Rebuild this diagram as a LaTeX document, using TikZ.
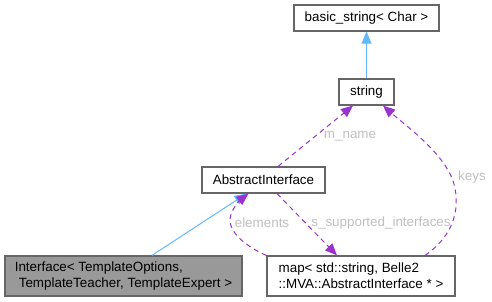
\documentclass[tikz,border=0pt]{standalone}
\usepackage{fontspec}
\setmainfont{Liberation Sans}
\usetikzlibrary{arrows.meta}
\definecolor{boxborder}{HTML}{666666}
\definecolor{graybox}{HTML}{999999}
\definecolor{inhblue}{HTML}{63B8FF}
\definecolor{usepurple}{HTML}{9A32CD}
\definecolor{lblgray}{HTML}{BFBFBF}
\tikzset{
  cls/.style={draw=boxborder, fill=white, line width=1.2pt, inner sep=0pt, anchor=center,
    font=\fontsize{13.4}{16}\selectfont, align=left},
  inh/.style={draw=inhblue, line width=1pt, -{Triangle[length=12pt,width=10pt]}},
  usage/.style={draw=usepurple, line width=1pt, dash pattern=on 5pt off 4pt,
    -{Triangle[length=12pt,width=10pt]}},
  lbl/.style={text=lblgray, font=\fontsize{13.4}{16}\selectfont, inner sep=0pt}
}
\begin{document}
\begin{tikzpicture}[x=1pt,y=-1pt]
\useasboundingbox (0,0) rectangle (492,301);
\node[cls, minimum width=145pt, minimum height=26pt] (bs) at (366.5,18) {basic\_string< Char >};
\node[cls, minimum width=55pt, minimum height=26pt] (str) at (366.5,92) {string};
\node[cls, minimum width=123pt, minimum height=26pt] (ai) at (263.5,180) {AbstractInterface};
\node[cls, fill=graybox, minimum width=237pt, minimum height=40pt] (ifc) at (123.5,276)
  {Interface< TemplateOptions,\\\hspace*{4pt}TemplateTeacher, TemplateExpert >};
\node[cls, minimum width=188pt, minimum height=40pt] (map) at (361,276)
  {map< std::string, Belle2\\::MVA::AbstractInterface * >};

\draw[inh] (str.north) -- (bs.south);
\draw[inh] ([xshift=28.5pt]ifc.north) -- ([xshift=-17pt]ai.south);

\draw[usage] ([xshift=14.5pt]ai.north) -- ([xshift=-13.5pt]str.south);
\draw[usage] ([xshift=64pt]map.north) .. controls (455,235) and (462,205) .. (452,178)
  .. controls (440,150) and (405,125) .. ([xshift=16.5pt]str.south);
\draw[usage] (map.north west) .. controls (245,246) and (229,232) .. (230,219)
  .. controls (231,210) and (239,201) .. ([xshift=-15pt]ai.south);
\draw[usage] ([xshift=13.5pt]ai.south) -- ([xshift=-24pt]map.north);

\node[lbl] (lmname) at (350,136) {m\_name};
\node[lbl] (lkeys) at (472,177) {keys};
\node[lbl] (lelem) at (262,223) {elements};
\node[lbl] (lsup) at (381,223) {s\_supported\_interfaces};
\end{tikzpicture}
\end{document}
